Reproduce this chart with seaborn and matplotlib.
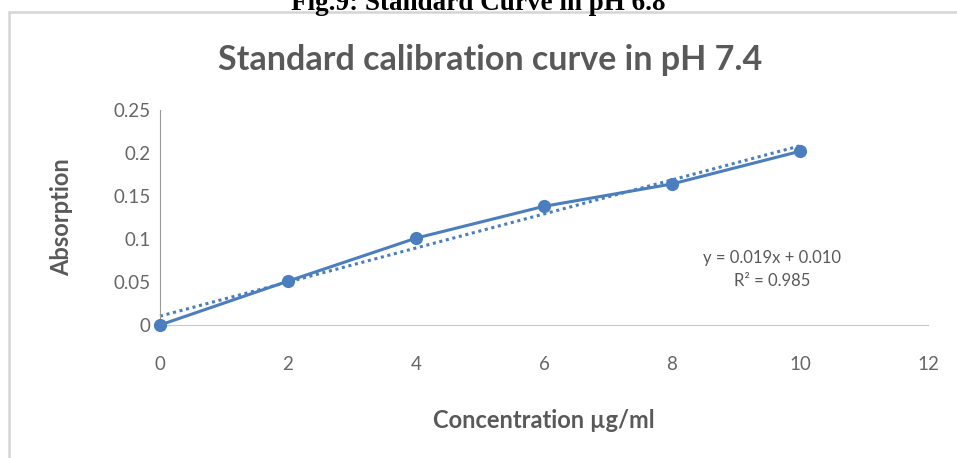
import numpy as np
import pandas as pd
import matplotlib
matplotlib.use("Agg")
import matplotlib.pyplot as plt
import seaborn as sns
from matplotlib.patches import Rectangle

concentration = [0, 2, 4, 6, 8, 10]
absorption = [0.0, 0.051, 0.101, 0.138, 0.164, 0.202]
x_ticks = [0, 2, 4, 6, 8, 10, 12]
y_ticks = [0, 0.05, 0.1, 0.15, 0.2, 0.25]
y_tick_labels = ["0", "0.05", "0.1", "0.15", "0.2", "0.25"]

df = pd.DataFrame({"Concentration": concentration, "Absorption": absorption})

sns.set_theme(style="white")
plt.rcParams['font.family'] = ['Lato', 'DejaVu Sans']

fig = plt.figure(figsize=(9.57, 4.58), dpi=100)
ax = fig.add_axes([160/957, 1-325/458, (928-160)/957, (325-110)/458])

blue = "#4A7EBF"
gray = "#595959"
# trendline (linear fit of the data)
slope, intercept = np.polyfit(concentration, absorption, 1)
tx = np.array([concentration[0], concentration[-1]])
ax.plot(tx, slope*tx + intercept, linestyle=(0, (1, 1.2)), color=blue, lw=2.2, zorder=2)

sns.lineplot(data=df, x="Concentration", y="Absorption", ax=ax, color=blue, lw=2.2,
             marker="o", markersize=9.5, markeredgewidth=0, zorder=3)
for l in ax.lines:
    l.set_clip_on(False)

ax.set_xlim(0, 12)
ax.set_ylim(0, 0.25)
ax.set_xticks(x_ticks)
ax.set_xticklabels([str(v) for v in x_ticks])
ax.set_yticks(y_ticks)
ax.set_yticklabels(y_tick_labels)
ax.tick_params(axis='both', length=0, colors="#666666", labelsize=13.5)
ax.tick_params(axis='x', pad=22)
ax.tick_params(axis='y', pad=7)

for s in ["top", "right"]:
    ax.spines[s].set_visible(False)
ax.spines["left"].set_color("#9A9A9A")
ax.spines["left"].set_linewidth(0.8)
ax.spines["bottom"].set_color("#C8C8C8")
ax.spines["bottom"].set_linewidth(0.8)

ax.set_xlabel("Concentration µg/ml", fontsize=17, color=gray, fontweight="bold", labelpad=26)
ax.set_ylabel("Absorption", fontsize=17, color=gray, fontweight="bold", labelpad=29)

fig.text(490/957, 1-60/458, "Standard calibration curve in pH 7.4", ha="center", va="center",
         fontsize=24.5, color=gray, fontweight="bold")

ax.text(9.56, 0.0645, "y = 0.019x + 0.010\nR² = 0.985", ha="center", va="center",
        fontsize=12, color=gray, linespacing=1.5)

# chart border
fig.patches.append(Rectangle((9/957, -0.05), 1.1, 1-12/458+0.05, transform=fig.transFigure,
                             fill=False, edgecolor="#D5D5D5", lw=1.8))

fig.text(478/957, 1-10/458, "Fig.9: Standard Curve in pH 6.8", ha="center", va="baseline",
         fontsize=19.5, fontweight="bold", family=['Liberation Serif', 'DejaVu Serif'], color="black")

fig.savefig("out.png", dpi=100, facecolor="white")
